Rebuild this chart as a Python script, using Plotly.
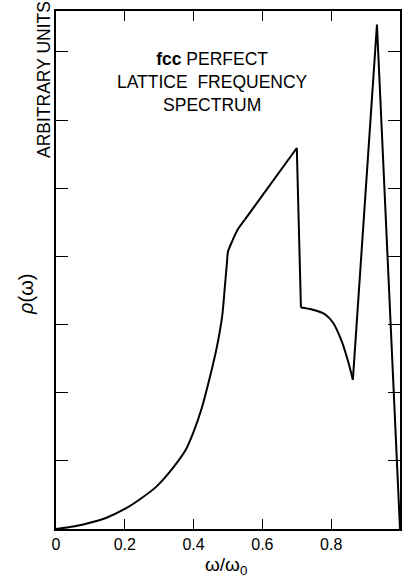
import plotly.graph_objects as go

# omega / omega_0
x_vals = [0.0, 0.058, 0.096, 0.145, 0.2, 0.241, 0.291, 0.340, 0.378, 0.401, 0.424, 0.448,
          0.468, 0.483, 0.491, 0.497, 0.500, 0.512, 0.529, 0.549, 0.70, 0.712, 0.744,
          0.782, 0.805, 0.831, 0.849, 0.863, 0.933, 1.0]
# rho(omega), arbitrary units
rho_vals = [0.0, 0.044, 0.088, 0.162, 0.294, 0.426, 0.618, 0.897, 1.17, 1.44, 1.78, 2.24,
            2.68, 3.12, 3.56, 3.91, 4.07, 4.22, 4.40, 4.54, 5.59, 3.25, 3.22,
            3.15, 3.03, 2.75, 2.46, 2.19, 7.40, 0.0]

x_tick_vals = [0, 0.2, 0.4, 0.6, 0.8, 1.0]
x_tick_text = ["0", "0.2", "0.4", "0.6", "0.8", "1.0"]
y_tick_vals = [1, 2, 3, 4, 5, 6, 7]

W, H = 409, 578
L, R, T, B = 56, 9, 11, 49
pw, ph = W - L - R, H - T - B

def px_x(p):
    return (p - L) / pw

def px_y(p):
    return (H - B - p) / ph

font = "Liberation Sans, Arial, sans-serif"

fig = go.Figure()
# smooth curved parts drawn as splines, straight parts as straight lines
segments = [(0, 20, "spline"), (19, 22, "linear"), (21, 28, "spline"), (27, 30, "linear")]
for a, b, shape in segments:
    fig.add_trace(go.Scatter(x=x_vals[a:b], y=rho_vals[a:b], mode="lines",
                             line=dict(color="black", width=2, shape=shape,
                                       smoothing=0.8 if shape == "spline" else None),
                             showlegend=False))

fig.update_layout(
    width=W, height=H,
    margin=dict(l=L, r=R, t=T, b=B, autoexpand=False),
    paper_bgcolor="white", plot_bgcolor="white",
    font=dict(family=font, color="black"),
)
fig.update_xaxes(range=[0, 1.0], tickvals=x_tick_vals, ticktext=x_tick_text,
                 ticks="inside", ticklen=10, tickwidth=1.2, tickcolor="black",
                 showline=True, linecolor="black", linewidth=1.5, mirror="ticks",
                 showgrid=False, zeroline=False, automargin=False,
                 tickfont=dict(size=16, family=font))
fig.update_yaxes(range=[0, 7.6], tickvals=y_tick_vals, showticklabels=False,
                 ticks="inside", ticklen=12, tickwidth=1.2, tickcolor="black",
                 showline=True, linecolor="black", linewidth=1.5, mirror="ticks",
                 showgrid=False, zeroline=False, automargin=False)

fig.add_annotation(xref="paper", yref="paper", x=px_x(212), y=px_y(82),
                   xanchor="center", yanchor="middle",
                   text="<b>fcc</b> PERFECT<br>LATTICE  FREQUENCY<br>SPECTRUM",
                   showarrow=False, font=dict(size=17.5, family=font), align="center")
fig.add_annotation(xref="paper", yref="paper", x=px_x(44), y=px_y(80),
                   xanchor="center", yanchor="middle",
                   text="ARBITRARY UNITS", textangle=-90, showarrow=False,
                   font=dict(size=17.5, family=font))
fig.add_annotation(xref="paper", yref="paper", x=px_x(26), y=px_y(295),
                   xanchor="center", yanchor="middle",
                   text="<i>ρ</i>(ω)", textangle=-90, showarrow=False,
                   font=dict(size=20, family=font))
fig.add_annotation(xref="paper", yref="paper", x=px_x(226), y=px_y(566),
                   xanchor="center", yanchor="middle",
                   text="ω/ω<sub>0</sub>", showarrow=False,
                   font=dict(size=19, family=font))

fig.write_html("out.html")
